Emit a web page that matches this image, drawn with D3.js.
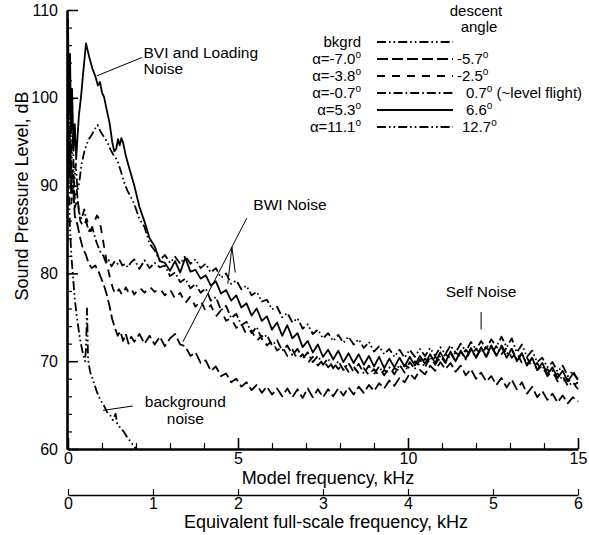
<!DOCTYPE html>
<html lang="en">
  <head>
    <title>Rotor noise spectra</title>
    <script src="https://d3js.org/d3.v7.min.js"></script>
    <style>
      body {
        margin: 0;
        background: white;
      }
      text {
        font-family: "Liberation Sans", Arial, sans-serif;
        fill: black;
      }
      .curve {
        fill: none;
        stroke: black;
        stroke-width: 1.8;
        stroke-linejoin: round;
      }
      .lead {
        fill: none;
        stroke: black;
        stroke-width: 1;
      }
    </style>
  </head>
  <body>
    <div id="chart"></div>
    <script>
      let width = 589;
      let height = 535;

      // Tick values
      let yMajor = [60, 70, 80, 90, 100, 110];
      let yMinor = [62, 64, 66, 68, 72, 74, 76, 78, 82, 84, 86, 88, 92, 94, 96, 98, 102, 104, 106, 108];
      let xMajor = [0, 5, 10, 15];
      let xMinor = [1, 2, 3, 4, 6, 7, 8, 9, 11, 12, 13, 14];
      let fullScaleTicks = [0, 1, 2, 3, 4, 5, 6];

      // Frequency bins (model kHz) shared by the upper part of every spectrum
      let gridKHz = [
        1.95, 2.1, 2.25, 2.4, 2.55, 2.7, 2.85, 3.0, 3.15, 3.3,
        3.45, 3.6, 3.75, 3.9, 4.05, 4.2, 4.35, 4.5, 4.65, 4.8,
        4.95, 5.1, 5.25, 5.4, 5.55, 5.7, 5.85, 6.0, 6.15, 6.3,
        6.45, 6.6, 6.75, 6.9, 7.05, 7.2, 7.35, 7.5, 7.65, 7.8,
        7.95, 8.1, 8.25, 8.4, 8.55, 8.7, 8.85, 9.0, 9.15, 9.3,
        9.45, 9.6, 9.75, 9.9, 10.05, 10.2, 10.35, 10.5, 10.65, 10.8,
        10.95, 11.1, 11.25, 11.4, 11.55, 11.7, 11.85, 12.0, 12.15, 12.3,
        12.45, 12.6, 12.75, 12.9, 13.05, 13.2, 13.35, 13.5, 13.65, 13.8,
        13.95, 14.1, 14.25, 14.4, 14.55, 14.7, 14.85, 15.0
      ];

      // alpha = 5.3 (solid)
      let lowA53 = [
        [0, 109], [0.03, 99], [0.06, 105], [0.09, 96], [0.12, 101], [0.16, 94], [0.2, 97],
        [0.24, 93], [0.28, 95.5], [0.32, 98], [0.38, 100], [0.45, 103], [0.53, 106.2],
        [0.62, 104.7], [0.72, 103.3], [0.8, 102.5], [0.88, 101.4], [0.94, 101.8], [1.0, 100.6],
        [1.06, 100.1], [1.14, 98.6], [1.22, 97.2], [1.3, 95], [1.36, 93.9], [1.42, 94.2],
        [1.47, 95.3], [1.52, 94.6], [1.57, 95.4], [1.62, 94.9], [1.7, 93.4], [1.78, 92.3], [1.86, 91.2]
      ];
      let gridA53 = [
        90.0, 87.6, 85.9, 84.0, 83.1, 81.4, 81.2, 80.3, 81.4, 80.1,
        81.8, 80.2, 80.4, 79.4, 79.8, 78.6, 79.1, 77.7, 78.1, 76.9,
        77.5, 76.1, 76.6, 75.2, 76.0, 74.6, 75.1, 73.6, 74.4, 72.9,
        74.1, 72.6, 73.2, 71.6, 72.3, 71.0, 71.9, 70.5, 71.3, 70.2,
        71.2, 69.9, 70.9, 69.8, 70.8, 69.6, 70.6, 69.4, 70.5, 69.2,
        70.3, 69.3, 70.4, 69.4, 70.5, 69.5, 70.6, 69.7, 70.8, 69.8,
        71.0, 69.9, 71.1, 70.0, 71.2, 70.3, 71.5, 70.4, 71.6, 70.5,
        71.8, 70.6, 71.7, 70.4, 71.4, 70.0, 70.9, 69.5, 70.4, 69.0,
        69.8, 68.5, 69.3, 68.1, 68.9, 67.7, 68.6, 68.0
      ];

      // alpha = 11.1 (dash-dot-dot)
      let lowA111 = [
        [0, 104], [0.03, 95], [0.06, 100], [0.1, 92], [0.14, 96], [0.18, 90], [0.23, 92.5],
        [0.28, 89.5], [0.33, 90.3], [0.4, 92.5], [0.5, 94.2], [0.6, 95.2], [0.7, 95.8],
        [0.8, 96.5], [0.87, 96.9], [0.95, 96.2], [1.05, 95.6], [1.15, 95], [1.25, 94.1],
        [1.35, 93.4], [1.45, 92.9], [1.55, 91.7], [1.65, 90.4], [1.75, 89.4], [1.85, 88.7]
      ];
      let gridA111 = [
        87.9, 86.2, 85.3, 83.4, 82.6, 81.5, 82.1, 81.2, 81.9, 81.1,
        82.0, 81.1, 81.6, 80.6, 81.1, 80.1, 80.6, 79.5, 80.0, 78.8,
        79.2, 78.2, 78.6, 77.5, 77.9, 76.8, 77.0, 75.9, 76.2, 75.0,
        75.5, 74.4, 74.9, 73.7, 74.2, 73.1, 73.6, 72.6, 73.2, 72.3,
        73.0, 72.1, 72.8, 71.9, 72.5, 71.5, 72.2, 71.1, 71.7, 70.8,
        71.4, 70.5, 71.3, 70.4, 71.3, 70.5, 71.4, 70.6, 71.5, 70.6,
        71.6, 70.8, 71.8, 71.0, 72.0, 71.1, 72.2, 71.3, 72.3, 71.4,
        72.5, 71.6, 72.8, 71.6, 72.6, 71.0, 71.9, 70.5, 71.2, 69.9,
        70.4, 69.3, 69.9, 68.8, 69.5, 68.3, 68.9, 67.8
      ];

      // alpha = -0.7 (dash-dot)
      let lowAm07 = [
        [0, 102], [0.03, 93], [0.06, 97], [0.1, 90], [0.14, 92], [0.2, 88.5], [0.26, 89.5],
        [0.32, 87], [0.4, 86.2], [0.48, 87.3], [0.56, 85.5], [0.64, 84.6], [0.72, 85.2],
        [0.8, 84], [0.88, 83.1], [0.96, 82.4], [1.04, 82.0], [1.12, 81.2], [1.2, 81.5],
        [1.28, 80.8], [1.36, 81.3], [1.44, 81.0], [1.52, 81.5], [1.6, 80.9], [1.68, 81.1],
        [1.76, 80.7], [1.84, 81.2]
      ];
      let gridAm07 = [
        81.6, 80.5, 81.5, 80.6, 81.2, 80.7, 80.9, 79.7, 80.1, 79.0,
        79.4, 78.3, 78.8, 77.8, 78.3, 76.9, 77.3, 75.8, 76.3, 74.9,
        75.4, 74.1, 74.5, 73.2, 73.9, 72.5, 73.0, 71.8, 72.4, 71.2,
        71.8, 70.7, 71.4, 70.3, 71.0, 69.9, 70.6, 69.6, 70.3, 69.2,
        70.0, 69.0, 69.8, 68.8, 69.7, 68.6, 69.5, 68.5, 69.4, 68.4,
        69.3, 68.5, 69.6, 68.7, 69.9, 69.1, 70.2, 69.3, 70.5, 69.6,
        70.6, 69.8, 70.9, 70.0, 71.1, 70.2, 71.3, 70.4, 71.4, 70.5,
        71.6, 70.7, 71.8, 70.8, 71.4, 70.2, 70.9, 69.7, 70.3, 69.0,
        69.5, 68.3, 68.9, 67.7, 68.3, 67.2, 67.6, 66.8
      ];

      // alpha = -3.8 (medium dash)
      let lowAm38 = [
        [0, 100], [0.03, 92], [0.06, 95], [0.1, 89], [0.15, 91], [0.2, 87.5], [0.28, 88.5],
        [0.36, 86], [0.45, 85.3], [0.55, 86.2], [0.65, 84.8], [0.75, 85.6], [0.85, 86.6],
        [0.92, 86.2], [1.0, 84.5], [1.08, 82.6], [1.16, 80.8], [1.24, 79.4], [1.32, 78.3],
        [1.4, 77.6], [1.5, 78.2], [1.6, 77.5], [1.7, 78.4], [1.8, 77.7], [1.88, 78.1]
      ];
      let gridAm38 = [
        77.6, 78.4, 77.8, 78.5, 77.9, 78.3, 77.5, 78.2, 77.1, 77.8,
        76.6, 77.4, 76.2, 76.9, 75.7, 76.4, 75.1, 75.8, 74.6, 74.9,
        73.8, 74.3, 73.0, 73.5, 72.3, 72.9, 71.8, 72.3, 71.2, 71.7,
        70.6, 71.3, 70.2, 70.8, 69.8, 70.5, 69.5, 70.2, 69.3, 69.9,
        69.1, 69.7, 68.8, 69.4, 68.6, 69.2, 68.4, 69.1, 68.3, 69.0,
        68.5, 69.2, 68.9, 69.6, 69.2, 70.0, 69.5, 70.3, 69.8, 70.5,
        70.0, 70.8, 70.3, 71.0, 70.5, 71.3, 70.7, 71.4, 70.8, 71.6,
        70.9, 71.7, 70.8, 71.5, 70.4, 71.0, 69.8, 70.4, 69.3, 69.8,
        68.8, 69.1, 68.2, 68.6, 67.7, 68.0, 67.2, 67.6
      ];

      // alpha = -7.0 (long dash)
      let lowAm70 = [
        [0, 98], [0.03, 91], [0.06, 94], [0.1, 88], [0.15, 90], [0.2, 86.5], [0.28, 85.5],
        [0.36, 84], [0.44, 82.8], [0.52, 82.2], [0.6, 81.2], [0.7, 80.6], [0.8, 80.9],
        [0.9, 80.2], [0.98, 79.4], [1.06, 78.6], [1.14, 77.6], [1.22, 76.3], [1.3, 74.8],
        [1.38, 73.8], [1.46, 72.9], [1.54, 73.4], [1.62, 72.3], [1.7, 73.1], [1.78, 72.0], [1.86, 72.8]
      ];
      let gridAm70 = [
        72.2, 73.1, 72.0, 72.9, 71.9, 72.8, 71.7, 72.6, 73.1, 71.9,
        71.7, 70.6, 71.0, 69.8, 70.1, 68.9, 69.4, 68.3, 68.6, 67.6,
        68.0, 67.1, 67.6, 66.7, 67.3, 66.4, 67.1, 66.2, 66.9, 66.0,
        66.9, 65.9, 66.8, 65.8, 66.9, 65.9, 66.8, 65.9, 66.8, 66.0,
        66.9, 66.1, 67.0, 66.2, 67.1, 66.4, 67.3, 66.6, 67.5, 66.9,
        67.8, 67.2, 68.1, 67.6, 68.6, 68.0, 69.0, 68.5, 69.5, 68.9,
        69.9, 69.1, 69.8, 68.8, 69.5, 68.4, 69.1, 68.0, 68.7, 67.7,
        68.3, 67.3, 68.1, 67.0, 67.9, 66.8, 67.6, 66.3, 67.1, 65.9,
        66.6, 65.6, 66.3, 65.3, 66.1, 65.2, 65.9, 65.4
      ];

      // background noise (dash-dot-dot), only low frequencies above 60 dB
      let bkgrd = [
        [0, 96], [0.03, 89], [0.06, 85], [0.1, 82], [0.15, 79.5], [0.2, 77], [0.27, 74.8],
        [0.35, 72.6], [0.42, 71.2], [0.5, 70.0], [0.53, 71.5], [0.56, 76.0], [0.59, 70.2],
        [0.65, 68.8], [0.75, 67.7], [0.85, 66.5], [0.95, 65.6], [1.05, 65.0], [1.15, 64.2],
        [1.25, 63.8], [1.32, 63.3], [1.4, 64.0], [1.45, 62.8], [1.55, 62.4], [1.65, 61.9],
        [1.75, 61.3], [1.85, 60.8], [1.95, 60.3], [2.02, 59.9]
      ];

      // legend
      let legendLeft = ["bkgrd", "\u03b1=-7.0", "\u03b1=-3.8", "\u03b1=-0.7", "\u03b1=5.3", "\u03b1=11.1"];
      let legendRight = ["", "-5.7", "-2.5", "0.7", "6.6", "12.7"];
      let dashes = ["9,3,1.6,3,1.6,3", "11,4", "8,7", "9,3,1.6,3", null, "9,3,1.6,3,1.6,3"];

      let svg = d3
        .select("#chart")
        .append("svg")
        .attr("width", width)
        .attr("height", height);
      svg.append("rect").attr("width", width).attr("height", height).attr("fill", "white");

      let x = d3.scaleLinear().domain([0, 15]).range([68, 578]);
      let x2 = d3.scaleLinear().domain([0, 6]).range([68, 578]);
      let y = d3.scaleLinear().domain([60, 110]).range([449, 10]);

      svg
        .append("clipPath")
        .attr("id", "plot")
        .append("rect")
        .attr("x", 68)
        .attr("y", 8)
        .attr("width", 512)
        .attr("height", 441);

      function withGrid(low, vals) {
        return low.concat(gridKHz.map(function (f, i) {
          return [f, vals[i]];
        }));
      }

      let series = [
        { data: bkgrd, dash: dashes[0] },
        { data: withGrid(lowAm70, gridAm70), dash: dashes[1] },
        { data: withGrid(lowAm38, gridAm38), dash: dashes[2] },
        { data: withGrid(lowAm07, gridAm07), dash: dashes[3] },
        { data: withGrid(lowA111, gridA111), dash: dashes[5] },
        { data: withGrid(lowA53, gridA53), dash: dashes[4] },
      ];

      let line = d3
        .line()
        .x(function (d) { return x(d[0]); })
        .y(function (d) { return y(d[1]); });

      svg
        .append("g")
        .attr("clip-path", "url(#plot)")
        .selectAll("path")
        .data(series)
        .enter()
        .append("path")
        .attr("class", "curve")
        .attr("d", function (d) { return line(d.data); })
        .attr("stroke-dasharray", function (d) { return d.dash; });

      // Axes
      function styleAxis(g, w) {
        g.select(".domain").attr("stroke-width", w);
        g.selectAll(".tick line").attr("stroke-width", 1.6);
        g.selectAll("text").attr("font-size", 16).attr("font-family", "Liberation Sans, Arial, sans-serif").attr("fill", "black");
      }

      let yAxis = svg
        .append("g")
        .attr("transform", "translate(67,0)")
        .call(d3.axisLeft(y).tickValues(yMajor).tickSize(-11).tickSizeOuter(0).tickPadding(9));
      styleAxis(yAxis, 2.6);
      let yAxisMinor = svg
        .append("g")
        .attr("transform", "translate(67,0)")
        .call(d3.axisLeft(y).tickValues(yMinor).tickSize(-5).tickFormat(""));
      yAxisMinor.select(".domain").remove();
      yAxisMinor.selectAll(".tick line").attr("stroke-width", 1.2);

      let xAxis = svg
        .append("g")
        .attr("transform", "translate(0,449)")
        .call(d3.axisBottom(x).tickValues(xMajor).tickSize(-11).tickSizeOuter(0).tickPadding(4));
      styleAxis(xAxis, 2.6);
      let xAxisMinor = svg
        .append("g")
        .attr("transform", "translate(0,449)")
        .call(d3.axisBottom(x).tickValues(xMinor).tickSize(-6).tickFormat(""));
      xAxisMinor.select(".domain").remove();
      xAxisMinor.selectAll(".tick line").attr("stroke-width", 1.2);

      let fullAxis = svg
        .append("g")
        .attr("transform", "translate(0,495)")
        .call(d3.axisBottom(x2).tickValues(fullScaleTicks).tickFormat(d3.format("d")).tickSize(-6).tickSizeOuter(0).tickPadding(3));
      styleAxis(fullAxis, 1.3);
      fullAxis.selectAll(".tick line").attr("stroke-width", 1.2);

      // Axis titles
      svg
        .append("text")
        .attr("x", 328)
        .attr("y", 484)
        .attr("text-anchor", "middle")
        .attr("font-size", 18)
        .text("Model frequency, kHz");
      svg
        .append("text")
        .attr("x", 326)
        .attr("y", 528)
        .attr("text-anchor", "middle")
        .attr("font-size", 18)
        .text("Equivalent full-scale frequency, kHz");
      svg
        .append("text")
        .attr("transform", "translate(28,196) rotate(-90)")
        .attr("text-anchor", "middle")
        .attr("font-size", 18)
        .text("Sound Pressure Level, dB");

      // Annotations
      function lead(f1, v1, f2, v2) {
        svg
          .append("line")
          .attr("class", "lead")
          .attr("x1", x(f1))
          .attr("y1", y(v1))
          .attr("x2", x(f2))
          .attr("y2", y(v2));
      }
      function label(f, v, str, anchor) {
        svg
          .append("text")
          .attr("x", x(f))
          .attr("y", y(v))
          .attr("font-size", 15.5)
          .attr("text-anchor", anchor || "start")
          .text(str);
      }

      label(2.22, 104.5, "BVI and Loading");
      label(2.22, 102.7, "Noise");
      lead(0.85, 102.5, 2.18, 104.6);

      label(5.45, 87.2, "BWI Noise");
      lead(5.26, 86.3, 3.38, 72.2);
      lead(4.82, 83.0, 4.7, 78.8);
      lead(4.82, 83.0, 4.92, 80.1);

      label(12.15, 77.3, "Self Noise", "middle");
      lead(12.15, 75.6, 12.15, 73.6);

      label(3.45, 64.8, "background", "middle");
      label(3.45, 62.9, "noise", "middle");
      lead(1.03, 64.4, 1.91, 64.9);

      // Legend
      let lg = svg.append("g");
      lg.append("text").attr("x", 476).attr("y", 16).attr("font-size", 15).attr("text-anchor", "middle").text("descent");
      lg.append("text").attr("x", 479).attr("y", 32).attr("font-size", 15).attr("text-anchor", "middle").text("angle");

      let rowY = [42, 59, 76, 93, 110, 127];
      let rightX = [0, 457, 457, 466, 466, 462];

      legendLeft.forEach(function (lab, i) {
        let t = lg
          .append("text")
          .attr("x", 361)
          .attr("y", rowY[i] + 5)
          .attr("font-size", 15)
          .attr("text-anchor", "end");
        t.append("tspan").text(lab);
        if (i > 0) {
          t.append("tspan").attr("font-size", 10).attr("dy", -6).text("o");
        }
        lg.append("line")
          .attr("x1", 377)
          .attr("x2", 453)
          .attr("y1", rowY[i])
          .attr("y2", rowY[i])
          .attr("stroke", "black")
          .attr("stroke-width", 1.8)
          .attr("stroke-dasharray", dashes[i]);
        if (legendRight[i]) {
          let r = lg
            .append("text")
            .attr("x", rightX[i])
            .attr("y", rowY[i] + 5)
            .attr("font-size", 15);
          r.append("tspan").text(legendRight[i]);
          r.append("tspan").attr("font-size", 10).attr("dy", -6).text("o");
          if (i === 3) {
            r.append("tspan").attr("dy", 6).text(" (~level flight)");
          }
        }
      });
    </script>
  </body>
</html>
